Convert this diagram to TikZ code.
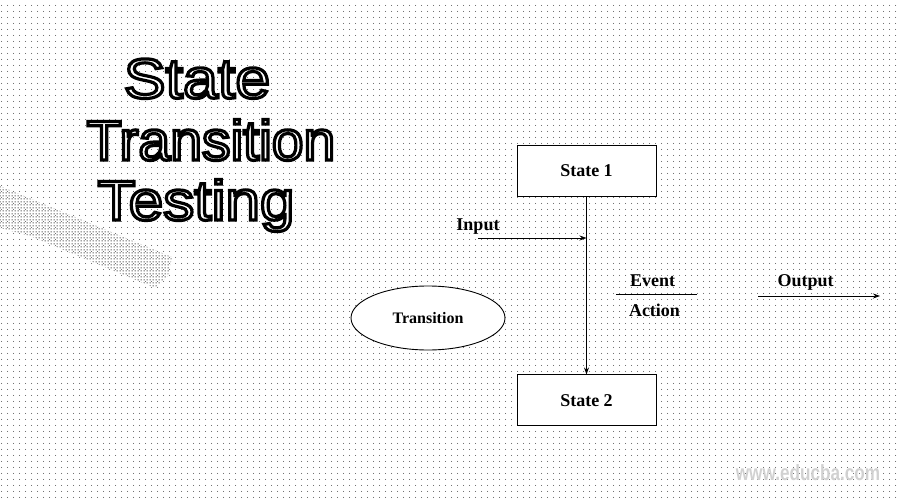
\documentclass[tikz,border=0pt]{standalone}
\usepackage{fontspec}
\setmainfont{Liberation Serif}
\newfontfamily\titlefont{Liberation Sans}
\usetikzlibrary{arrows.meta,positioning,shapes.geometric,patterns.meta}
\newcommand{\outlinetext}[1]{\special{pdf:literal direct 2 Tr 3.2 w 0 0 0 RG 1 1 1 rg}#1\special{pdf:literal direct 0 Tr}}
\tikzdeclarepattern{
  name=halftone, type=uncolored,
  bottom left={(0pt,0pt)}, top right={(6pt,6pt)}, tile size={(6pt,6pt)},
  code={\pgfpathcircle{\pgfpoint{3pt}{3pt}}{0.55pt}\pgfusepath{fill}}
}
\tikzdeclarepattern{
  name=densedots, type=uncolored,
  bottom left={(0pt,0pt)}, top right={(3pt,3pt)}, tile size={(3pt,3pt)},
  code={\pgfpathcircle{\pgfpoint{1.5pt}{1.5pt}}{0.7pt}\pgfusepath{fill}}
}
\tikzset{
  statebox/.style={
    rectangle, draw=black, line width=0.9pt, fill=white,
    minimum width=139pt, minimum height=51pt,
    font=\fontsize{18}{20}\selectfont\bfseries
  },
  transellipse/.style={
    ellipse, draw=black, line width=0.9pt, fill=white, inner sep=0pt,
    minimum width=154pt, minimum height=64pt,
    font=\fontsize{16}{18}\selectfont\bfseries
  },
  lbl/.style={font=\fontsize{18}{20}\selectfont\bfseries, inner sep=2pt},
  titletext/.style={anchor=base, text=white,
    font=\titlefont\fontsize{56}{60}\selectfont\addfontfeature{FakeStretch=#1}},
  flowarrow/.style={-{Stealth[length=7pt,width=5pt]}, line width=0.8pt}
}
\begin{document}
\begin{tikzpicture}[x=1pt,y=-1pt]
\useasboundingbox (0,0) rectangle (900,500);
% halftone background
\fill[pattern=halftone, pattern color=black!75] (0,0) rectangle (900,500);
\fill[pattern=densedots, pattern color=black]
  (0,186) -- (172,257) -- (168,276) -- (155,288) -- (30,236) -- (0,228) -- cycle;

% title
\foreach \word/\px/\py/\st in {State/197/98/1.12, Transition/211/160/1.02, Testing/196/220/1.11}
  \node[titletext=\st] (title\word) at (\px,\py) {\outlinetext{\word}};

% states
\node[statebox] (s1) at (586.5,170.5) {State 1};
\node[statebox, below=178pt of s1] (s2) {State 2};
\node[transellipse] (trans) at (428,318) {Transition};

\draw[flowarrow] (s1) -- (s2);

% input
\coordinate (inp) at (478,238);
\node[lbl, above=1pt of inp] (inlbl) {Input};
\draw[flowarrow] (inp) -- (inp -| s1);

% event / action
\coordinate (ea1) at (616,294);
\coordinate (ea2) at (697,294);
\draw[line width=0.8pt] (ea1) -- node[lbl, above=5pt, xshift=-4pt] (evlbl) {Event}
  node[lbl, below=8pt, xshift=-2pt] (aclbl) {Action} (ea2);

% output
\coordinate (out1) at (758,296);
\coordinate (out2) at (880,296);
\draw[flowarrow] (out1) -- node[lbl, above=3pt, pos=0.39] (outlbl) {Output} (out2);

% watermark
\node[font=\titlefont\bfseries\fontsize{22}{24}\selectfont\addfontfeature{FakeStretch=0.78},
  text=black!18] (wm) at (808,473) {www.educba.com};
\end{tikzpicture}
\end{document}
